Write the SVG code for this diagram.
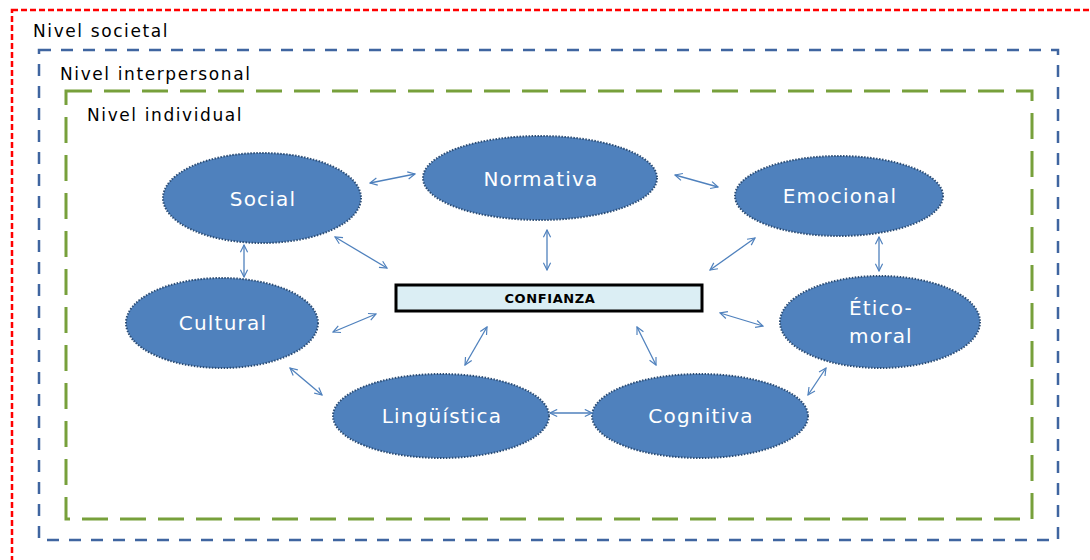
<svg xmlns="http://www.w3.org/2000/svg" width="1090" height="560" viewBox="0 0 1090 560">
<defs>
<marker id="ah" viewBox="0 0 10 10" refX="9" refY="5" markerWidth="9" markerHeight="9" orient="auto-start-reverse" markerUnits="userSpaceOnUse">
<path d="M1,1 L9,5 L1,9" fill="none" stroke="#4f81bd" stroke-width="1.3"/>
</marker>
</defs>
<style>
.lvl{font-family:"DejaVu Sans","Open Sans",sans-serif;font-size:17px;letter-spacing:1.6px;fill:#000}
.ell{fill:#4f81bd;stroke:#2c4d75;stroke-width:2;stroke-dasharray:1.5 1.5}
.lbl{font-family:"DejaVu Sans","Open Sans",sans-serif;font-size:20px;letter-spacing:1.2px;fill:#fff;text-anchor:middle}
.con line{stroke:#4f81bd;stroke-width:1.3;marker-start:url(#ah);marker-end:url(#ah)}
</style>
<rect width="1090" height="560" fill="#fff"/>
<g id="societal">
<rect x="12" y="10" width="1100" height="580" fill="none" stroke="#ff0000" stroke-width="2.5" stroke-dasharray="6 3"/>
<text class="lvl" x="33" y="37">Nivel societal</text>
</g>
<g id="interpersonal">
<rect x="39" y="50" width="1019" height="490" fill="none" stroke="#3f65a0" stroke-width="2.5" stroke-dasharray="12 10"/>
<text class="lvl" x="60" y="80">Nivel interpersonal</text>
</g>
<g id="individual">
<rect x="66" y="91" width="966" height="428" fill="none" stroke="#77a03b" stroke-width="3" stroke-dasharray="26 12"/>
<text class="lvl" x="87" y="121">Nivel individual</text>
</g>
<g id="confianza">
<rect x="396" y="285" width="306" height="26" fill="#dbeef4" stroke="#000" stroke-width="3"/>
<text x="550" y="303" font-family="'DejaVu Sans','Liberation Sans',sans-serif" font-size="13" font-weight="bold" letter-spacing="0.6" text-anchor="middle">CONFIANZA</text>
</g>
<g id="social"><ellipse class="ell" cx="262" cy="198" rx="99" ry="45"/><text class="lbl" x="263" y="206">Social</text></g>
<g id="normativa"><ellipse class="ell" cx="540" cy="178" rx="117" ry="42"/><text class="lbl" x="541" y="186">Normativa</text></g>
<g id="emocional"><ellipse class="ell" cx="839" cy="196" rx="104" ry="40"/><text class="lbl" x="840" y="203">Emocional</text></g>
<g id="eticomoral"><ellipse class="ell" cx="880" cy="322" rx="100" ry="46"/><text class="lbl" x="881" y="315">Ético-</text><text class="lbl" x="881" y="343">moral</text></g>
<g id="cultural"><ellipse class="ell" cx="222" cy="323" rx="96" ry="45"/><text class="lbl" x="223" y="330">Cultural</text></g>
<g id="linguistica"><ellipse class="ell" cx="441" cy="416" rx="108" ry="42"/><text class="lbl" x="442" y="423">Lingüística</text></g>
<g id="cognitiva"><ellipse class="ell" cx="700" cy="416" rx="108" ry="42"/><text class="lbl" x="701" y="423">Cognitiva</text></g>
<g id="connectors" class="con">
<line x1="370" y1="183" x2="415" y2="174"/>
<line x1="675" y1="175" x2="718" y2="187"/>
<line x1="335" y1="237" x2="387" y2="268"/>
<line x1="547" y1="230" x2="547" y2="270"/>
<line x1="755" y1="238" x2="710" y2="270"/>
<line x1="244" y1="245" x2="244" y2="277"/>
<line x1="879" y1="237" x2="879" y2="271"/>
<line x1="333" y1="332" x2="376" y2="314"/>
<line x1="720" y1="313" x2="763" y2="326"/>
<line x1="487" y1="327" x2="465" y2="365"/>
<line x1="637" y1="327" x2="656" y2="365"/>
<line x1="290" y1="368" x2="322" y2="395"/>
<line x1="550" y1="413" x2="592" y2="413"/>
<line x1="826" y1="368" x2="808" y2="395"/>
</g>
</svg>
